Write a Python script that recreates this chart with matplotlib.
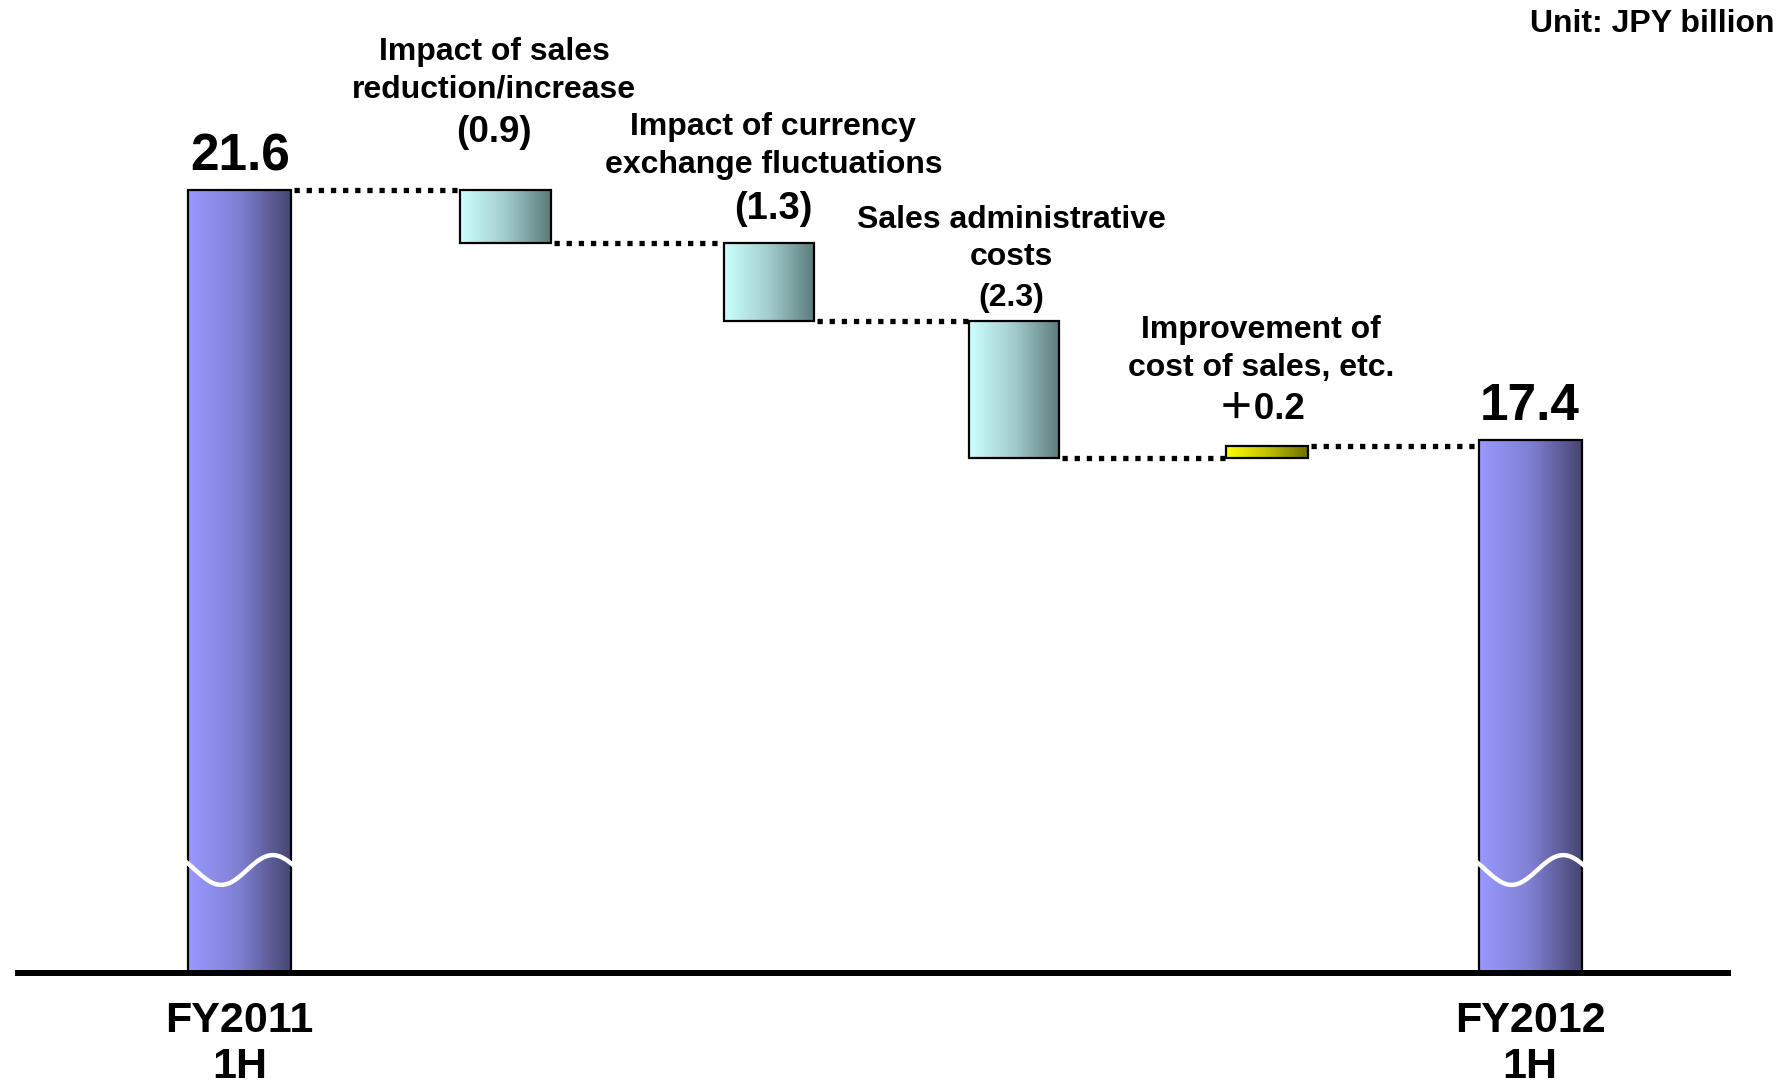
import numpy as np
import matplotlib.pyplot as plt
from matplotlib.colors import LinearSegmentedColormap
from matplotlib.patches import Rectangle

plt.rcParams['font.family'] = ['Liberation Sans', 'Noto Sans CJK JP', 'DejaVu Sans']
plt.rcParams['font.weight'] = 'bold'

# ---------------------------------------------------------------
# data
# ---------------------------------------------------------------
start_label = "FY2011\n1H"
end_label = "FY2012\n1H"
start_value = 21.6
end_value = 17.4
step_names = ["Impact of sales\nreduction/increase",
              "Impact of currency\nexchange fluctuations",
              "Sales administrative\ncosts",
              "Improvement of\ncost of sales, etc."]
step_values = [-0.9, -1.3, -2.3, 0.2]
step_texts = ["(0.9)", "(1.3)", "(2.3)", "\uff0b0.2"]
unit_text = "Unit: JPY billion"

# ---------------------------------------------------------------
# layout
# ---------------------------------------------------------------
X_POS = [0, 1.03, 2.05, 3.0, 3.98, 5.0]
BASE = 8.44                 # axis is broken, bars start here
BREAK_Y = 10.17             # wavy cut across the total bars
W_TOTAL, W_STEP, W_SMALL = 0.40, 0.35, 0.32
VAL_OFF = [41, 24.5, 16.5, 26]          # points above bar top
NAME_OFF = [86, 70, 59, 69.5]
LBL_DX = [-8.3, 3.3, -1.6, -4]          # label shift, points
VAL_SIZE = [26.5, 27.5, 23, 26.5]

C_TOTAL = ["#9999ff", "#7f7fd2", "#45456f"]
C_STEP = ["#ccffff", "#a2cccc", "#5c7a7a"]
C_UP = ["#ffff00", "#c0c000", "#6e6e00"]


def grad_bar(ax, x, w, y0, y1, colors, z=2):
    lo, hi = min(y0, y1), max(y0, y1)
    cmap = LinearSegmentedColormap.from_list("g", colors)
    g = np.linspace(0, 1, 256).reshape(1, -1)
    ax.imshow(g, cmap=cmap, extent=[x - w / 2, x + w / 2, lo, hi],
              aspect='auto', zorder=z, interpolation='bilinear')
    ax.add_patch(Rectangle((x - w / 2, lo), w, hi - lo, fill=False,
                           ec='black', lw=1.6, zorder=z + 0.1))


def wave(ax, x, w):
    t = np.linspace(-0.03, 1.03, 120)
    ax.plot(x - w / 2 + t * w, BREAK_Y - 0.25 * np.sin(2 * np.pi * (t - 0.07)),
            color='white', lw=3.2, zorder=4, solid_capstyle='butt')


def connector(ax, x_from, x_to, y):
    ax.plot([x_from + 0.012, x_to - 0.004], [y, y], color='black', lw=3.8,
            ls=(0, (1.0, 1.3)), dash_capstyle='butt', zorder=3)


fig = plt.figure(figsize=(17.89, 10.86), dpi=100)
ax = fig.add_axes([0, 0, 1, 1])

# start total
x0 = X_POS[0]
grad_bar(ax, x0, W_TOTAL, BASE, start_value, C_TOTAL)
wave(ax, x0, W_TOTAL)
ax.annotate(f"{start_value}", (x0, start_value), xytext=(0, 14),
            textcoords='offset points', ha='center', va='baseline', fontsize=37)

# steps
level = start_value
prev_right = x0 + W_TOTAL / 2
for i, (name, v, txt) in enumerate(zip(step_names, step_values, step_texts)):
    x = X_POS[i + 1]
    w = W_SMALL if v > 0 else W_STEP
    connector(ax, prev_right, x - w / 2, level)
    new_level = level + v
    grad_bar(ax, x, w, level, new_level, C_UP if v > 0 else C_STEP)
    top = max(level, new_level)
    ax.annotate(txt, (x, top), xytext=(LBL_DX[i], VAL_OFF[i]),
                textcoords='offset points', ha='center', va='center',
                fontsize=VAL_SIZE[i])
    ax.annotate(name, (x, top), xytext=(LBL_DX[i], NAME_OFF[i]),
                textcoords='offset points', ha='center', va='center',
                fontsize=23, linespacing=1.32)
    level = new_level
    prev_right = x + w / 2

# end total
x5 = X_POS[5]
connector(ax, prev_right, x5 - W_TOTAL / 2, level)
grad_bar(ax, x5, W_TOTAL, BASE, end_value, C_TOTAL)
wave(ax, x5, W_TOTAL)
ax.annotate(f"{end_value}", (x5, end_value), xytext=(0, 14),
            textcoords='offset points', ha='center', va='baseline', fontsize=37)

# base line + category labels
ax.plot([-0.87, 5.78], [BASE, BASE], color='black', lw=4.3, zorder=5,
        solid_capstyle='butt')
for x, lab in [(x0, start_label), (x5, end_label)]:
    ax.annotate(lab, (x, BASE), xytext=(0, -51), textcoords='offset points',
                ha='center', va='center', fontsize=31, linespacing=1.2)

fig.text(0.992, 1 - 24 / 1086, unit_text, ha='right', va='center', fontsize=23)

ax.set_xlim(-0.929, 6.003)
ax.set_ylim(6.54, 24.79)
ax.axis('off')
fig.savefig("out.png", dpi=100, facecolor='white')
